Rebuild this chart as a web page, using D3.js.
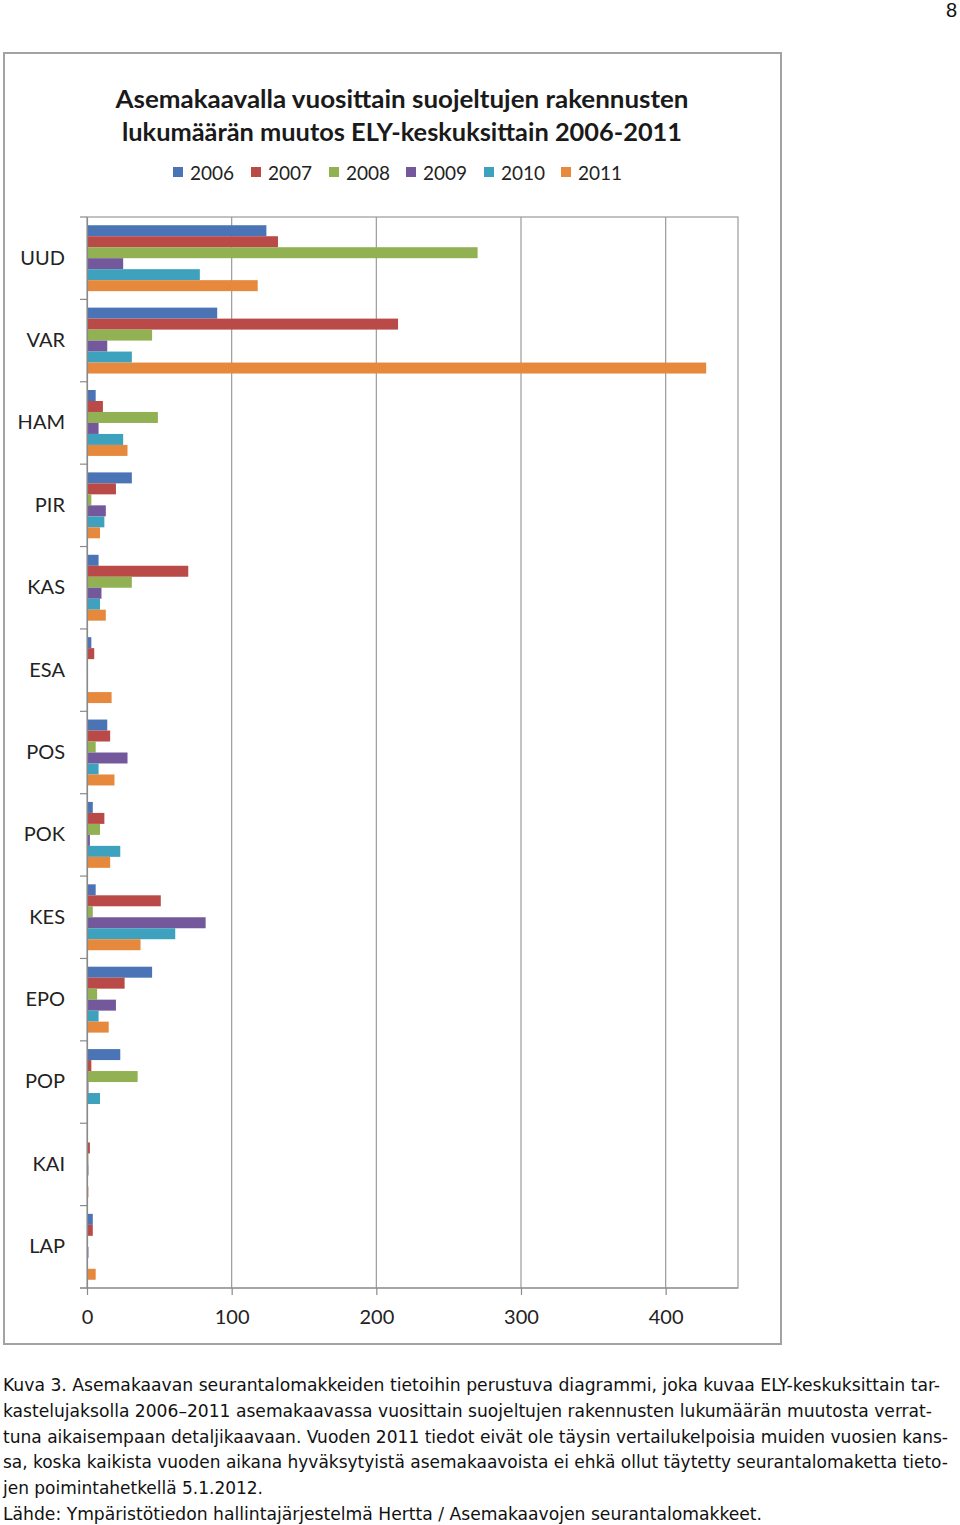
<!DOCTYPE html>
<html><head><meta charset="utf-8">
<script src="https://cdn.jsdelivr.net/npm/d3@7/dist/d3.min.js"></script>
<style>body{margin:0;background:#fff}svg{display:block}</style>
</head><body>
<svg id="c" width="960" height="1525"></svg>
<script>
const categories = ["UUD","VAR","HAM","PIR","KAS","ESA","POS","POK","KES","EPO","POP","KAI","LAP"];
const years = ["2006","2007","2008","2009","2010","2011"];
const v2006 = [124, 90, 6, 31, 8, 3, 14, 4, 6, 45, 23, 0, 4];
const v2007 = [132, 215, 11, 20, 70, 5, 16, 12, 51, 26, 3, 2, 4];
const v2008 = [270, 45, 49, 3, 31, 0, 6, 9, 4, 7, 35, 1, 0];
const v2009 = [25, 14, 8, 13, 10, 0, 28, 2, 82, 20, 1, 1, 1];
const v2010 = [78, 31, 25, 12, 9, 0, 8, 23, 61, 8, 9, 0, 0];
const v2011 = [118, 428, 28, 9, 13, 17, 19, 16, 37, 15, 0, 1, 6];
const seriesValues = [v2006, v2007, v2008, v2009, v2010, v2011];
const colors = ["#4a74b5","#b94a47","#91b152","#73599b","#3ea1bd","#e6893d"];
const xTicks = [0,100,200,300,400];
const titleLines = ["Asemakaavalla vuosittain suojeltujen rakennusten","lukumäärän muutos ELY-keskuksittain 2006-2011"];
const captionLines = [
 "Kuva 3. Asemakaavan seurantalomakkeiden tietoihin perustuva diagrammi, joka kuvaa ELY-keskuksittain tar-",
 "kastelujaksolla 2006–2011 asemakaavassa vuosittain suojeltujen rakennusten lukumäärän muutosta verrat-",
 "tuna aikaisempaan detaljikaavaan. Vuoden 2011 tiedot eivät ole täysin vertailukelpoisia muiden vuosien kans-",
 "sa, koska kaikista vuoden aikana hyväksytyistä asemakaavoista ei ehkä ollut täytetty seurantalomaketta tieto-",
 "jen poimintahetkellä 5.1.2012.",
 "Lähde: Ympäristötiedon hallintajärjestelmä Hertta / Asemakaavojen seurantalomakkeet."
];
const captionWidths = [937, 929, 945, 945, 260, 759];

(function(){
const svg = d3.select("#c");
const font = "Lato, 'Open Sans', sans-serif";

svg.append("text").attr("x",957).attr("y",17).attr("text-anchor","end")
  .attr("font-family","'Liberation Sans', Arial, sans-serif").attr("font-size",20).attr("fill","#111").text("8");

svg.append("rect").attr("x",4).attr("y",53).attr("width",777).attr("height",1291)
  .attr("fill","#fff").attr("stroke","#a3a3a3").attr("stroke-width",2);

const titleW = [573, 560];
titleLines.forEach((t,i)=>{
  svg.append("text").attr("x",402).attr("y",108+i*33).attr("text-anchor","middle")
    .attr("font-family",font).attr("font-weight","bold").attr("font-size",25)
    .attr("fill","#1a1a1a").attr("textLength",titleW[i]).attr("lengthAdjust","spacingAndGlyphs").text(t);
});

const legX = [173,251,329,406,484,561];
years.forEach((yr,i)=>{
  svg.append("rect").attr("x",legX[i]).attr("y",167).attr("width",10).attr("height",10).attr("fill",colors[i]);
  svg.append("text").attr("x",legX[i]+17).attr("y",180).attr("font-family",font).attr("font-size",19)
    .attr("fill","#222").text(yr);
});

const pL=87, pR=738, pT=217, pB=1288;
const x = d3.scaleLinear().domain([0,450]).range([pL,pR]);
const y = d3.scaleBand().domain(categories).range([pT,pB]).paddingInner(0.2).paddingOuter(0.1);
const ySub = d3.scaleBand().domain(years).range([0,y.bandwidth()]);

svg.append("rect").attr("x",pL).attr("y",pT).attr("width",pR-pL).attr("height",pB-pT)
  .attr("fill","none").attr("stroke","#9a9a9a").attr("stroke-width",1.2);

svg.append("g").selectAll("line").data(xTicks.slice(1)).join("line")
  .attr("x1",d=>x(d)).attr("x2",d=>x(d)).attr("y1",pT).attr("y2",pB)
  .attr("stroke","#9a9a9a").attr("stroke-width",1.2);

years.forEach((yr,i)=>{
  svg.append("g").selectAll("rect").data(categories).join("rect")
    .attr("x",x(0)).attr("y",(c)=>y(c)+ySub(yr))
    .attr("width",(c,j)=>x(seriesValues[i][j])-x(0))
    .attr("height",ySub.bandwidth()).attr("fill",colors[i]);
});

const xAxis = d3.axisBottom(x).tickValues(xTicks).tickSize(7).tickPadding(15).tickSizeOuter(0);
const gx = svg.append("g").attr("transform",`translate(0,${pB})`).call(xAxis);
gx.select(".domain").attr("stroke","#8a8a8a").attr("stroke-width",1.2).attr("d",`M${pL-7},0H${pR}`);
gx.selectAll(".tick line").attr("stroke","#8a8a8a").attr("stroke-width",1.2);
gx.selectAll(".tick text").attr("font-family",font).attr("font-size",20).attr("fill","#222");

const gy = svg.append("g").attr("transform",`translate(${pL},0)`)
  .call(d3.axisLeft(y).tickSize(0).tickPadding(22));
gy.select(".domain").attr("stroke","#8a8a8a").attr("stroke-width",1.2);
gy.selectAll(".tick text").attr("font-family",font).attr("font-size",20).attr("fill","#222");
const bounds = categories.map(c=>y(c)-y.step()*y.paddingInner()/2).concat([pB]);
svg.append("g").selectAll("line").data(bounds).join("line")
  .attr("x1",pL-7).attr("x2",pL).attr("y1",d=>d).attr("y2",d=>d)
  .attr("stroke","#8a8a8a").attr("stroke-width",1.2);

captionLines.forEach((t,i)=>{
  svg.append("text").attr("x",3).attr("y",1391+i*25.8)
    .attr("font-family","'Liberation Sans Narrow','DejaVu Sans Condensed','Liberation Sans',sans-serif")
    .attr("font-size",18.5).attr("fill","#111")
    .attr("textLength",captionWidths[i]).attr("lengthAdjust","spacingAndGlyphs").text(t);
});
})();
</script>
</body></html>
